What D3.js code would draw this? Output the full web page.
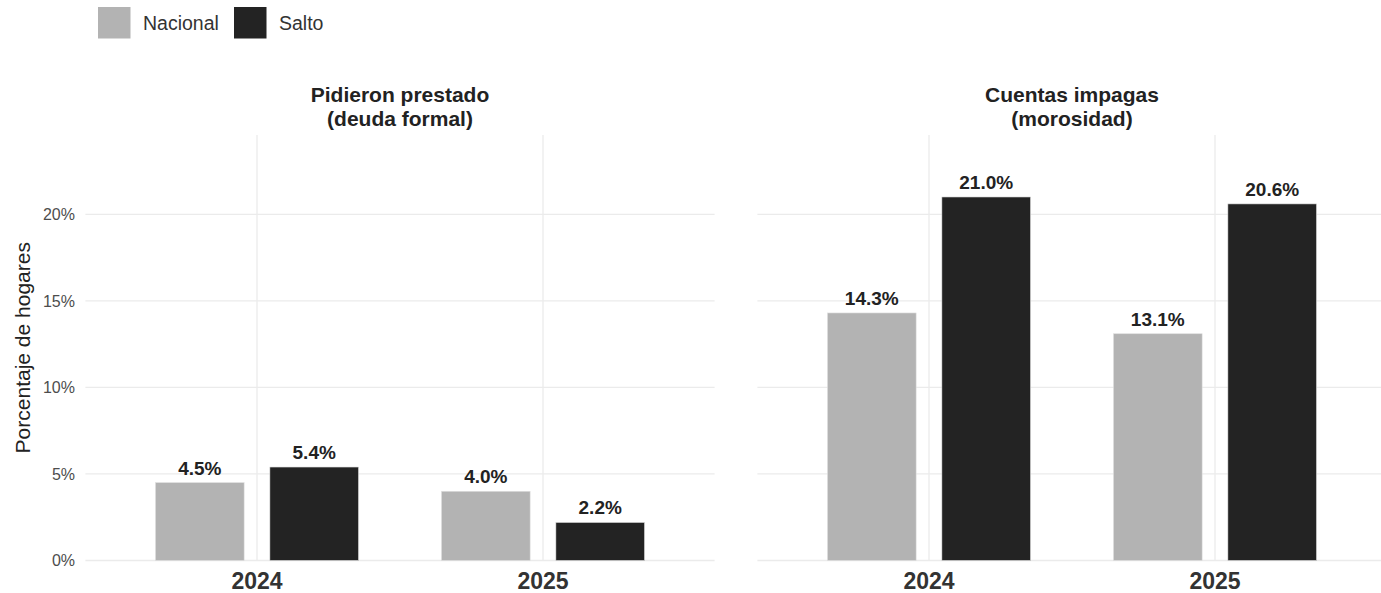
<!DOCTYPE html>
<html><head><meta charset="utf-8">
<script src="https://cdn.jsdelivr.net/npm/d3@7"></script>
<style>body{margin:0;background:#fff}svg{display:block;font-family:"Liberation Sans",Arial,sans-serif}</style>
</head><body><svg id="c" width="1381" height="593"></svg>
<script>
const panels = ["Pidieron prestado\n(deuda formal)", "Cuentas impagas\n(morosidad)"];
const years = ["2024", "2025"];
const series = ["Nacional", "Salto"];
const colors = ["#b3b3b3", "#232323"];
const nacional = [[4.5, 4.0], [14.3, 13.1]];
const salto = [[5.4, 2.2], [21.0, 20.6]];
const yTicks = [0, 5, 10, 15, 20];

const svg = d3.select("#c");
const plotTop = 135, plotBottom = 560.5;
const y = d3.scaleLinear().domain([0, 24.58]).range([plotBottom, plotTop]);
const panelX = [[85.4, 714.6], [757.4, 1386.6]];

svg.append("g").selectAll("text").data(yTicks).join("text")
  .attr("x", 75).attr("y", d => y(d)).attr("dy", "0.36em")
  .attr("text-anchor", "end").attr("font-size", 16).attr("fill", "#4d4d4d")
  .text(d => d + "%");
svg.append("text").attr("transform", `translate(30,${(plotTop + plotBottom) / 2}) rotate(-90)`)
  .attr("text-anchor", "middle").attr("font-size", 21).attr("fill", "#222").text("Porcentaje de hogares");

panels.forEach((p, pi) => {
  const [x0, x1] = panelX[pi];
  const x = d3.scalePoint().domain(years).range([x0, x1]).padding(0.6);
  const step = x.step();
  const g = svg.append("g");
  g.selectAll("line.h").data(yTicks).join("line")
    .attr("x1", x0).attr("x2", x1).attr("y1", d => y(d)).attr("y2", d => y(d))
    .attr("stroke", "#ebebeb").attr("stroke-width", 1.3);
  g.selectAll("line.v").data(years).join("line")
    .attr("x1", d => x(d)).attr("x2", d => x(d)).attr("y1", plotTop).attr("y2", plotBottom)
    .attr("stroke", "#ebebeb").attr("stroke-width", 1.3);
  const rows = [];
  years.forEach((yr, i) => {
    rows.push({yr, s: 0, v: nacional[pi][i]});
    rows.push({yr, s: 1, v: salto[pi][i]});
  });
  const bw = step * 0.31;
  const cx = d => x(d.yr) + (d.s === 0 ? -0.2 : 0.2) * step;
  g.selectAll("rect").data(rows).join("rect")
    .attr("x", d => cx(d) - bw / 2).attr("width", bw)
    .attr("y", d => y(d.v)).attr("height", d => y(0) - y(d.v))
    .attr("fill", d => colors[d.s]).attr("stroke", "#e0e0e0").attr("stroke-width", 0.6);
  g.selectAll("text.lab").data(rows).join("text")
    .attr("x", cx).attr("y", d => y(d.v) - 8)
    .attr("text-anchor", "middle").attr("font-size", 19).attr("font-weight", "bold").attr("fill", "#222")
    .text(d => d.v.toFixed(1) + "%");
  g.selectAll("text.xt").data(years).join("text")
    .attr("x", d => x(d)).attr("y", 589)
    .attr("text-anchor", "middle").attr("font-size", 23).attr("font-weight", "bold").attr("fill", "#333")
    .text(d => d);
  const lines = p.split("\n");
  g.selectAll("text.st").data(lines).join("text")
    .attr("x", (x0 + x1) / 2).attr("y", (d, i) => 102 + i * 23.5)
    .attr("text-anchor", "middle").attr("font-size", 21).attr("font-weight", "bold").attr("fill", "#222")
    .text(d => d);
});

const lg = svg.append("g");
const legX = [98, 234];
series.forEach((s, i) => {
  lg.append("rect").attr("x", legX[i]).attr("y", 7).attr("width", 32.5).attr("height", 31.5).attr("fill", colors[i]);
  lg.append("text").attr("x", legX[i] + 45).attr("y", 23).attr("dy", "0.36em")
    .attr("font-size", 19.5).attr("fill", "#333").text(s);
});
</script></body></html>
